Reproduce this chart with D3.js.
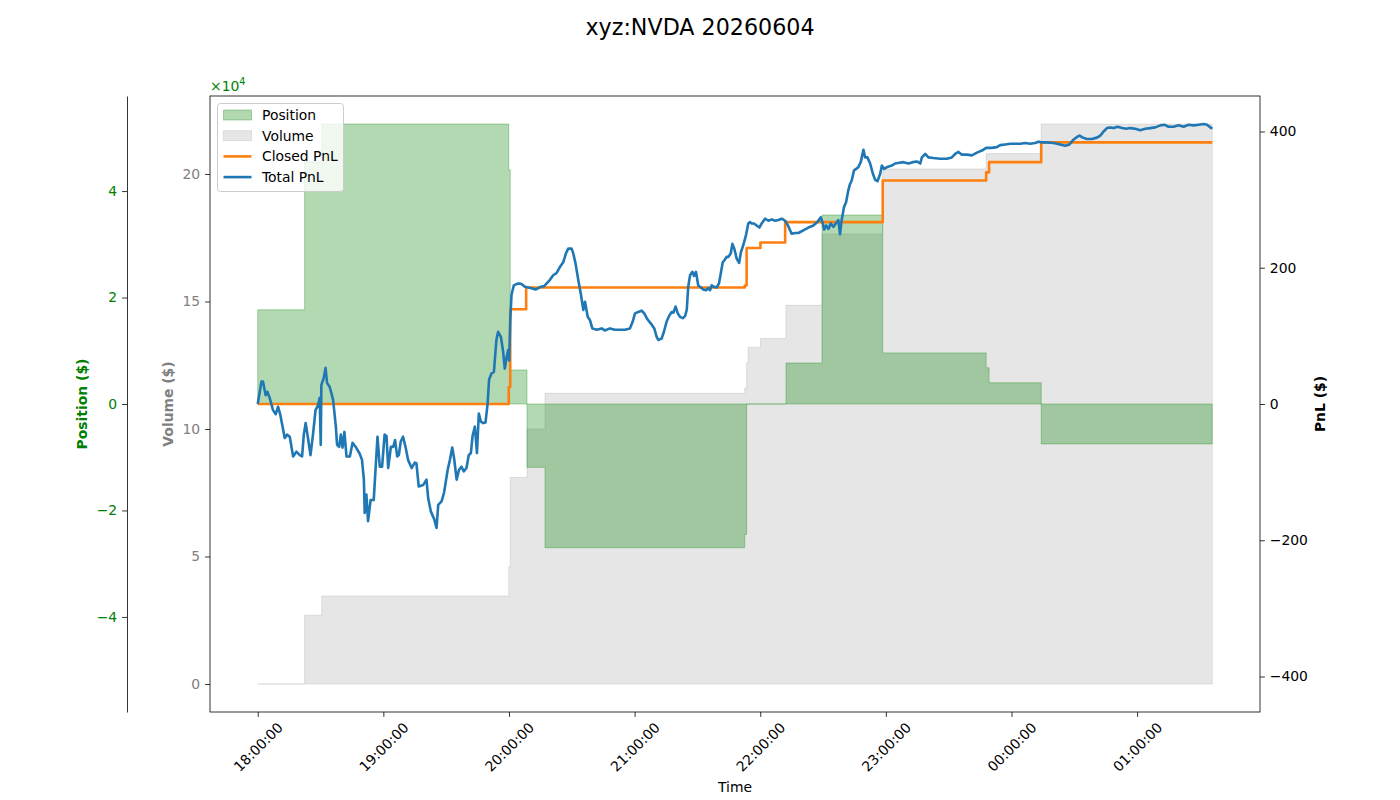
<!DOCTYPE html>
<html>
<head>
<meta charset="utf-8">
<script src="https://cdn.jsdelivr.net/npm/d3@7"></script>
<style>
  body { margin: 0; background: #fff; }
  svg { font-family: 'DejaVu Sans', sans-serif; }
</style>
</head>
<body>
<svg id="chart" width="1400" height="800"></svg>
<script>
const title = 'xyz:NVDA 20260604'
const sessionStart = new Date(2026, 5, 4, 18, 0, 0)
const hourTicks = ['18:00:00', '19:00:00', '20:00:00', '21:00:00', '22:00:00', '23:00:00', '00:00:00', '01:00:00']
const positionTicks = [-40000, -20000, 0, 20000, 40000]
const volumeTicks = [0, 50000, 100000, 150000, 200000]
const pnlTicks = [-400, -200, 0, 200, 400]

// [minutes since 18:00, value]
const positionSteps = [
  [0, 17700], [22.4, 45500], [30.6, 52600], [119.9, 44000], [120.6, 6400],
  [128.6, -11900], [137.2, -27000], [232.6, -24500], [233.5, 0], [252.3, 7700],
  [269.5, 35500], [298.5, 9600], [347.9, 6800], [349.3, 4000], [374.2, -7500],
  [455.9, -7500]
]
const volumeSteps = [
  [0, 0], [22.4, 27000], [30.6, 34500], [119.9, 46000], [120.6, 81000],
  [128.6, 100000], [137.2, 114000], [232.6, 116000], [233.5, 126000], [234.2, 132000],
  [240.1, 135500], [252.3, 148500], [269.5, 176500], [298.5, 202000], [347.9, 208000],
  [374.2, 219600], [455.9, 219600]
]
const closedPnl = [
  [0, 0], [119.9, 25], [120.6, 139], [128.2, 171], [232.6, 174], [233.5, 229],
  [240.1, 237], [251.9, 267], [298.5, 328], [347.9, 340], [349.3, 355],
  [374.2, 384], [455.9, 384]
]
const totalPnl = [
  [0, 0], [1.8, 33], [2.5, 33], [3.8, 13], [4.6, 18], [5.7, 9], [7.3, -9], [8.6, -15],
  [9.7, -4], [10.8, -16], [12.9, -50], [14.0, -45], [15.3, -48], [16.9, -77], [18.5, -70],
  [20.1, -75], [21.2, -77], [22.0, -45], [22.9, -28], [24.0, -50], [25.2, -75], [26.4, -45],
  [27.6, -9], [28.8, -2], [29.6, 9], [30.1, -60], [30.4, 28], [31.5, 38], [32.4, 53],
  [33.1, 31], [34.4, 25], [36.0, 6], [37.3, -33], [37.9, -60], [38.9, -63], [39.7, -45],
  [40.5, -64], [41.4, -41], [42.4, -77], [44.0, -77], [45.3, -57], [46.8, -63], [48.7, -73],
  [49.8, -82], [50.7, -111], [51.1, -160], [51.9, -133], [52.7, -172], [53.9, -141],
  [55.4, -141], [57.2, -48], [58.3, -92], [59.4, -92], [60.6, -45], [61.5, -47], [62.3, -94],
  [63.6, -63], [64.7, -63], [65.6, -53], [66.6, -77], [67.4, -75], [68.3, -55], [69.4, -48],
  [70.6, -63], [71.8, -82], [73.5, -94], [75.0, -86], [75.8, -87], [76.9, -121], [79.0, -119],
  [80.6, -111], [81.4, -138], [82.7, -158], [84.3, -169], [85.4, -182], [86.2, -148],
  [87.8, -143], [89.0, -130], [90.7, -97], [91.8, -82], [92.9, -64], [93.8, -80], [95.0, -111],
  [96.1, -97], [97.3, -92], [98.4, -99], [99.7, -94], [100.8, -75], [101.8, -72], [102.6, -47],
  [103.7, -33], [104.7, -72], [105.6, -14], [106.6, -26], [107.7, -28], [108.8, -27],
  [109.8, 1], [110.5, 36], [111.7, 45], [112.8, 47], [114.0, 94], [114.8, 106], [116.1, 99],
  [117.2, 77], [118.0, 52], [118.9, 69], [119.6, 79], [120.1, 64], [120.6, 123], [121.2, 160],
  [122.3, 174], [123.6, 176], [124.7, 177], [126.0, 176], [127.6, 172], [129.2, 171],
  [130.8, 170], [132.7, 168], [134.0, 170], [135.2, 172], [136.8, 173], [138.0, 177],
  [139.5, 182], [141.1, 189], [142.7, 192], [144.3, 201], [145.9, 208], [147.2, 221],
  [148.3, 228], [149.9, 228], [150.7, 221], [151.8, 206], [153.1, 182], [154.4, 160],
  [155.5, 138], [156.3, 150], [157.6, 128], [158.7, 123], [159.8, 111], [161.9, 109],
  [164.3, 111], [165.8, 108], [168.2, 111], [170.6, 109], [173.0, 109], [175.4, 109],
  [177.8, 111], [179.1, 121], [180.2, 133], [181.7, 135], [183.4, 137], [184.6, 133],
  [186.2, 124], [187.8, 118], [189.4, 111], [190.5, 99], [191.3, 94], [192.9, 96], [194.0, 106],
  [195.3, 121], [196.6, 130], [197.7, 135], [198.5, 134], [199.6, 143], [200.6, 133],
  [201.7, 128], [203.0, 126], [204.1, 129], [204.9, 138], [205.6, 172], [206.5, 189],
  [207.6, 194], [208.4, 188], [209.3, 194], [210.4, 174], [211.7, 171], [212.8, 168],
  [214.1, 167], [215.2, 170], [216.0, 167], [216.8, 174], [217.9, 172], [219.2, 171],
  [220.3, 177], [221.3, 194], [222.1, 208], [222.9, 211], [224.0, 216], [224.8, 216],
  [225.9, 221], [226.7, 235], [227.6, 228], [228.8, 213], [229.9, 207], [230.8, 223],
  [231.9, 233], [233.2, 248], [234.3, 265], [235.1, 267], [235.9, 265], [237.0, 265],
  [238.3, 262], [239.6, 259], [240.7, 265], [242.3, 272], [243.9, 269], [245.5, 271],
  [247.1, 269], [248.7, 270], [250.3, 272], [251.9, 269], [253.4, 261], [255.0, 250],
  [256.6, 251], [258.2, 251], [260.6, 255], [263.0, 259], [265.4, 262], [267.3, 267],
  [268.9, 274], [269.9, 265], [270.5, 256], [271.5, 262], [272.6, 257], [273.7, 265],
  [275.0, 260], [276.3, 266], [277.3, 270], [278.1, 249], [278.9, 270], [280.0, 289],
  [281.0, 296], [282.1, 314], [282.9, 323], [283.7, 328], [284.8, 343], [285.8, 345],
  [286.9, 348], [288.0, 355], [289.3, 373], [290.1, 362], [291.2, 362], [292.5, 353],
  [293.8, 338], [294.9, 329], [296.0, 327], [297.3, 338], [298.1, 350], [299.2, 345],
  [300.7, 348], [302.8, 350], [304.4, 353], [306.5, 354], [308.4, 355], [310.8, 353],
  [312.9, 355], [314.8, 356], [316.4, 353], [317.2, 362], [318.8, 367], [320.3, 362],
  [322.7, 361], [325.9, 360], [329.1, 360], [331.5, 362], [333.1, 367], [334.7, 370],
  [336.3, 366], [338.7, 366], [341.1, 365], [343.5, 369], [345.9, 372], [347.9, 376],
  [350.6, 376], [353.0, 377], [354.6, 380], [357.0, 381], [359.4, 382], [361.8, 382],
  [364.2, 382], [366.6, 383], [368.9, 382], [371.3, 383], [372.9, 385], [374.5, 384],
  [376.9, 384], [380.1, 383], [383.3, 381], [385.7, 379], [387.7, 381], [389.6, 388],
  [391.3, 392], [392.5, 394], [394.1, 391], [396.0, 389], [398.4, 389], [400.8, 391],
  [402.4, 394], [404.0, 400], [405.6, 405], [407.2, 406], [408.8, 405], [410.7, 407],
  [412.8, 405], [414.8, 404], [416.7, 405], [419.1, 404], [421.5, 402], [423.9, 404],
  [426.3, 405], [428.7, 406], [431.1, 409], [433.0, 410], [435.0, 407], [437.4, 407],
  [439.8, 409], [442.2, 407], [444.6, 410], [447.0, 409], [449.4, 410], [451.8, 411],
  [453.4, 410], [455.0, 406], [455.9, 404]
]

const svg = d3.select('#chart')
const plot = { left: 210, right: 1260, top: 96, bottom: 712 }
const toDate = m => new Date(sessionStart.getTime() + m * 60000)

const tEnd = d3.max(totalPnl, d => d[0])
const tPad = tEnd * 0.05
const x = d3.scaleTime()
  .domain([toDate(-tPad), toDate(tEnd + tPad)])
  .range([plot.left, plot.right])

const posLim = d3.max(positionSteps, d => Math.abs(d[1])) * 1.1
const yPos = d3.scaleLinear().domain([-posLim, posLim]).range([plot.bottom, plot.top])
const volMax = d3.max(volumeSteps, d => d[1])
const yVol = d3.scaleLinear().domain([-volMax * 0.05, volMax * 1.05]).range([plot.bottom, plot.top])
const pnlLim = d3.max(totalPnl.concat(closedPnl), d => Math.abs(d[1])) * 1.1
const yPnl = d3.scaleLinear().domain([-pnlLim, pnlLim]).range([plot.bottom, plot.top])

svg.append('rect').attr('width', 1400).attr('height', 800).attr('fill', '#fff')

// fills
svg.append('path')
  .datum(volumeSteps)
  .attr('d', d3.area().curve(d3.curveStepAfter)
    .x(d => x(toDate(d[0]))).y0(yVol(0)).y1(d => yVol(d[1])))
  .attr('fill', 'gray').attr('fill-opacity', 0.2)
  .attr('stroke', 'gray').attr('stroke-opacity', 0.2).attr('stroke-width', 1)

svg.append('path')
  .datum(positionSteps)
  .attr('d', d3.area().curve(d3.curveStepAfter)
    .x(d => x(toDate(d[0]))).y0(yPos(0)).y1(d => yPos(d[1])))
  .attr('fill', 'green').attr('fill-opacity', 0.3)
  .attr('stroke', 'green').attr('stroke-opacity', 0.3).attr('stroke-width', 1)

// pnl lines
const lineW = 2.6
svg.append('path')
  .datum(closedPnl)
  .attr('d', d3.line().curve(d3.curveStepAfter).x(d => x(toDate(d[0]))).y(d => yPnl(d[1])))
  .attr('fill', 'none').attr('stroke', '#ff7f0e').attr('stroke-width', lineW)
  .attr('stroke-linejoin', 'round')

svg.append('path')
  .datum(totalPnl)
  .attr('d', d3.line().x(d => x(toDate(d[0]))).y(d => yPnl(d[1])))
  .attr('fill', 'none').attr('stroke', '#1f77b4').attr('stroke-width', lineW)
  .attr('stroke-linejoin', 'round')

// frame
svg.append('rect')
  .attr('x', plot.left).attr('y', plot.top)
  .attr('width', plot.right - plot.left).attr('height', plot.bottom - plot.top)
  .attr('fill', 'none').attr('stroke', '#000').attr('stroke-width', 0.8)

function styleAxis (g, color) {
  g.attr('font-family', null).attr('font-size', null)
  g.select('.domain').attr('stroke', '#000').attr('stroke-width', 0.8)
  g.selectAll('.tick line').attr('stroke', '#000').attr('stroke-width', 0.8)
  g.selectAll('.tick text').attr('fill', color).style('font-size', '13.9px')
}

const fmt10k = d3.format('d')

// x axis
const xAxis = svg.append('g')
  .attr('transform', `translate(0,${plot.bottom})`)
  .call(d3.axisBottom(x)
    .ticks(d3.timeHour.every(1))
    .tickFormat((d, i) => hourTicks[i] !== undefined ? hourTicks[i] : d3.timeFormat('%H:%M:%S')(d))
    .tickSize(4.9).tickPadding(4.9).tickSizeOuter(0))
xAxis.call(styleAxis, '#000')
xAxis.select('.domain').remove()
xAxis.selectAll('.tick text')
  .attr('dy', null).attr('y', 35)
  .attr('text-anchor', 'middle')
  .attr('dominant-baseline', 'central')
  .attr('transform', 'rotate(-45 0 35)')

// position axis (offset spine)
const posAxis = svg.append('g')
  .attr('transform', 'translate(127,0)')
  .call(d3.axisLeft(yPos).tickValues(positionTicks)
    .tickFormat(d => fmt10k(d / 1e4).replace('-', '\u2212'))
    .tickSize(4.9).tickPadding(4.9).tickSizeOuter(0))
posAxis.call(styleAxis, 'green')

// volume axis
const volAxis = svg.append('g')
  .attr('transform', `translate(${plot.left},0)`)
  .call(d3.axisLeft(yVol).tickValues(volumeTicks)
    .tickFormat(d => fmt10k(d / 1e4))
    .tickSize(4.9).tickPadding(4.9).tickSizeOuter(0))
volAxis.call(styleAxis, 'gray')
volAxis.select('.domain').remove()

// pnl axis
const pnlAxis = svg.append('g')
  .attr('transform', `translate(${plot.right},0)`)
  .call(d3.axisRight(yPnl).tickValues(pnlTicks)
    .tickFormat(d => d3.format('d')(d).replace('-', '\u2212'))
    .tickSize(4.9).tickPadding(4.9).tickSizeOuter(0))
pnlAxis.call(styleAxis, '#000')
pnlAxis.select('.domain').remove()

// offset text
const off = svg.append('text')
  .attr('x', plot.left).attr('y', 91)
  .attr('fill', 'green').style('font-size', '13.9px')
off.append('tspan').text('\u00d710')
off.append('tspan').text('4').attr('dy', -6).style('font-size', '9.7px')

// axis labels
const midY = (plot.top + plot.bottom) / 2
function vLabel (xPos, text, color) {
  svg.append('text')
    .attr('transform', `translate(${xPos},${midY}) rotate(-90)`)
    .attr('text-anchor', 'middle').attr('dominant-baseline', 'central')
    .attr('fill', color).style('font-size', '13.9px').style('font-weight', 'bold')
    .text(text)
}
vLabel(82, 'Position ($)', 'green')
vLabel(168, 'Volume ($)', 'gray')
vLabel(1320, 'PnL ($)', '#000')

svg.append('text')
  .attr('x', (plot.left + plot.right) / 2).attr('y', 787)
  .attr('text-anchor', 'middle').attr('dominant-baseline', 'central')
  .style('font-size', '13.9px').text('Time')

svg.append('text')
  .attr('x', 700).attr('y', 27)
  .attr('text-anchor', 'middle').attr('dominant-baseline', 'central')
  .style('font-size', '22.2px').text(title)

// legend
const legendItems = [
  { label: 'Position', kind: 'patch', color: 'green', alpha: 0.3 },
  { label: 'Volume', kind: 'patch', color: 'gray', alpha: 0.2 },
  { label: 'Closed PnL', kind: 'line', color: '#ff7f0e' },
  { label: 'Total PnL', kind: 'line', color: '#1f77b4' }
]
const legend = svg.append('g').attr('transform', 'translate(217.5,103.5)')
legend.append('rect')
  .attr('width', 126).attr('height', 88).attr('rx', 3)
  .attr('fill', '#fff').attr('fill-opacity', 0.8)
  .attr('stroke', '#cccccc').attr('stroke-width', 1)
legendItems.forEach((it, i) => {
  const cy = 11.5 + i * 20.7
  if (it.kind === 'patch') {
    legend.append('rect')
      .attr('x', 6).attr('y', cy - 5).attr('width', 28).attr('height', 10)
      .attr('fill', it.color).attr('fill-opacity', it.alpha)
      .attr('stroke', it.color).attr('stroke-opacity', it.alpha)
  } else {
    legend.append('line')
      .attr('x1', 6).attr('x2', 34).attr('y1', cy).attr('y2', cy)
      .attr('stroke', it.color).attr('stroke-width', lineW)
  }
  legend.append('text')
    .attr('x', 44.5).attr('y', cy)
    .attr('dominant-baseline', 'central')
    .style('font-size', '13.9px').text(it.label)
})
</script>
</body>
</html>
